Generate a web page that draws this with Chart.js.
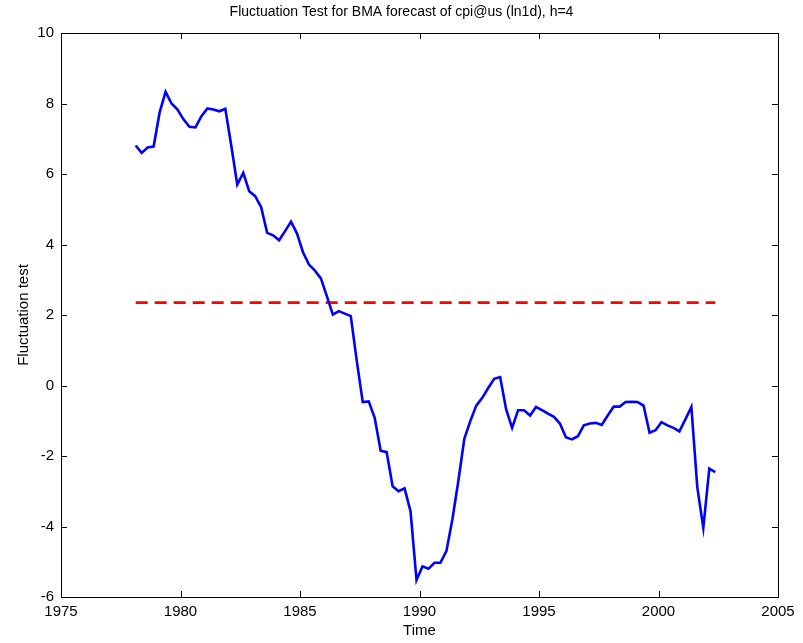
<!DOCTYPE html>
<html>
<head>
<meta charset="utf-8">
<script src="https://cdn.jsdelivr.net/npm/chart.js@4.4.1/dist/chart.umd.min.js"></script>
<style>
  html, body { margin: 0; padding: 0; background: #fff; }
  #wrap { width: 803px; height: 643px; }
</style>
</head>
<body>
<div id="wrap"><canvas id="flucChart" width="803" height="643"></canvas></div>
<script>
// quarterly time axis: first observation and step
var startTime = 1978.125;
var stepTime = 0.25;

// fluctuation test statistic
var flucValues = [
    6.81, 6.60, 6.75, 6.78, 7.74, 8.33, 8.00, 7.83, 7.55, 7.34,
    7.32, 7.64, 7.86, 7.83, 7.78, 7.85, 6.80, 5.70, 6.03, 5.51,
    5.37, 5.06, 4.33, 4.26, 4.12, 4.38, 4.65, 4.31, 3.78, 3.43,
    3.26, 3.04, 2.53, 2.01, 2.11, 2.04, 1.97, 0.70, -0.47, -0.45,
    -0.92, -1.85, -1.89, -2.86, -3.00, -2.92, -3.57, -5.52, -5.13, -5.20,
    -5.03, -5.03, -4.70, -3.80, -2.71, -1.51, -1.01, -0.57, -0.35, -0.07,
    0.19, 0.24, -0.68, -1.20, -0.70, -0.70, -0.85, -0.61, -0.70, -0.80,
    -0.89, -1.08, -1.47, -1.53, -1.44, -1.13, -1.08, -1.06, -1.12, -0.85,
    -0.60, -0.60, -0.47, -0.46, -0.47, -0.57, -1.34, -1.27, -1.04, -1.13,
    -1.20, -1.30, -0.96, -0.61, -2.90, -4.04, -2.36, -2.46
];

// critical value (horizontal dashed line)
var criticalValue = 2.35;

var times = flucValues.map(function (v, i) { return startTime + i * stepTime; });
var flucPoints = flucValues.map(function (v, i) { return { x: times[i], y: v }; });
var critPoints = [
    { x: times[0], y: criticalValue },
    { x: times[times.length - 1], y: criticalValue }
];

var fontFamily = '"Liberation Sans", Arial, sans-serif';
var axisFont = { family: fontFamily, size: 15 };

// matlab style box with inward ticks on all four sides
var boxPlugin = {
    id: 'boxTicks',
    afterDraw: function (chart) {
        var ctx = chart.ctx;
        var a = chart.chartArea;
        var sx = chart.scales.x, sy = chart.scales.y;
        var len = 6;
        ctx.save();
        ctx.strokeStyle = '#000';
        ctx.lineWidth = 1;
        ctx.strokeRect(Math.round(a.left) + 0.5, Math.round(a.top) + 0.5,
            Math.round(a.right - a.left), Math.round(a.bottom - a.top));
        ctx.beginPath();
        sx.ticks.forEach(function (t) {
            var px = Math.round(sx.getPixelForValue(t.value)) + 0.5;
            ctx.moveTo(px, a.bottom); ctx.lineTo(px, a.bottom - len);
            ctx.moveTo(px, a.top); ctx.lineTo(px, a.top + len);
        });
        sy.ticks.forEach(function (t) {
            var py = Math.round(sy.getPixelForValue(t.value)) + 0.5;
            ctx.moveTo(a.left, py); ctx.lineTo(a.left + len, py);
            ctx.moveTo(a.right, py); ctx.lineTo(a.right - len, py);
        });
        ctx.stroke();
        ctx.restore();
    }
};

var ctxFluc = document.getElementById('flucChart').getContext('2d');
var flucChart = new Chart(ctxFluc, {
    type: 'line',
    data: {
        datasets: [{
            label: 'Fluctuation test',
            data: flucPoints,
            borderColor: '#0000ff',
            borderWidth: 2.6,
            pointRadius: 0,
            tension: 0,
            fill: false
        }, {
            label: 'Critical value',
            data: critPoints,
            borderColor: '#ff0000',
            borderWidth: 2.6,
            borderDash: [12, 7],
            pointRadius: 0,
            fill: false
        }]
    },
    plugins: [boxPlugin],
    options: {
        responsive: false,
        animation: false,
        layout: { padding: 0 },
        plugins: {
            legend: { display: false },
            tooltip: { enabled: false },
            title: {
                display: true,
                text: 'Fluctuation Test for BMA forecast of cpi@us (ln1d), h=4',
                color: '#000',
                font: { family: fontFamily, size: 14, weight: 'normal' },
                padding: { top: 3.6, bottom: 12.6 }
            }
        },
        scales: {
            x: {
                type: 'linear',
                min: 1975,
                max: 2005,
                ticks: {
                    stepSize: 5,
                    color: '#000',
                    font: axisFont,
                    padding: 6,
                    maxRotation: 0,
                    callback: function (v) { return String(v); }
                },
                grid: { drawOnChartArea: false, drawTicks: false },
                border: { display: false },
                title: {
                    display: true,
                    text: 'Time',
                    color: '#000',
                    font: axisFont,
                    padding: { top: 0, bottom: 3 }
                },
                afterFit: function (scale) { scale.height = 46; }
            },
            y: {
                min: -6,
                max: 10,
                ticks: {
                    stepSize: 2,
                    color: '#000',
                    font: axisFont,
                    padding: 7
                },
                grid: { drawOnChartArea: false, drawTicks: false },
                border: { display: false },
                title: {
                    display: true,
                    text: 'Fluctuation test',
                    color: '#000',
                    font: axisFont,
                    padding: { top: 15, bottom: 0 }
                },
                afterFit: function (scale) { scale.width = 61; }
            },
            // empty right-hand axis, only reserves the margin
            yRight: {
                position: 'right',
                min: -6,
                max: 10,
                ticks: { display: false },
                grid: { display: false, drawTicks: false },
                border: { display: false },
                afterFit: function (scale) { scale.width = 25; }
            }
        }
    }
});
</script>
</body>
</html>
